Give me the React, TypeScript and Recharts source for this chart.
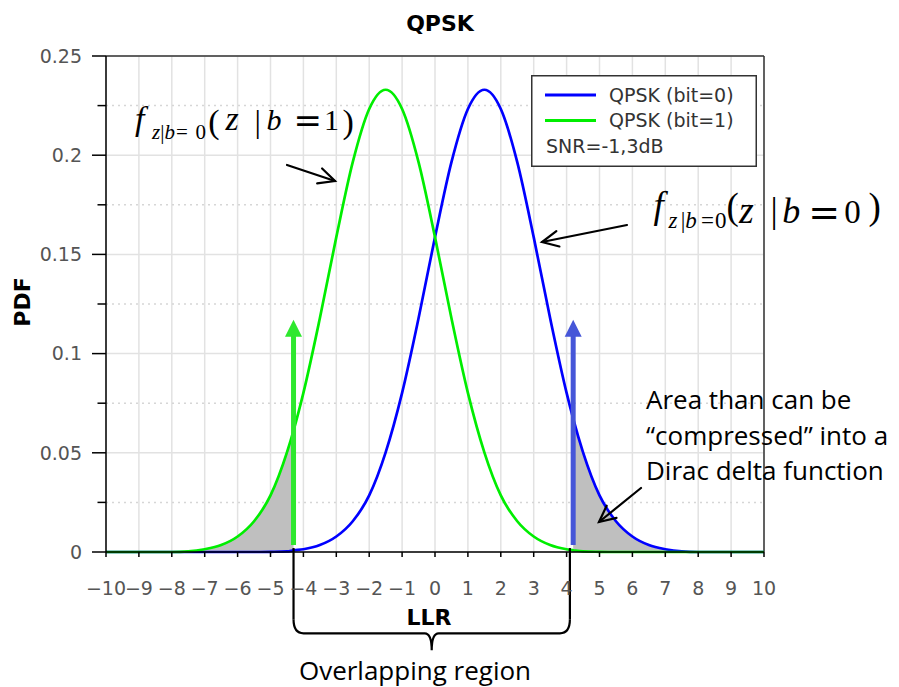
import React from 'react';
import {
  ComposedChart,
  Line,
  Area,
  XAxis,
  YAxis,
  CartesianGrid,
  ReferenceLine,
  ReferenceDot,
  Legend,
} from 'recharts';

// LLR sample positions
const llr = [
  -10, -9.5, -9, -8.5, -8, -7.5, -7, -6.5, -6, -5.5, -5, -4.5, -4.3, -4, -3.5, -3, -2.5, -2, -1.5, -1,
  -0.5, 0, 0.5, 1, 1.5, 2, 2.5, 3, 3.5, 4, 4.2, 4.5, 5, 5.5, 6, 6.5, 7, 7.5, 8, 8.5, 9, 9.5, 10,
];
// QPSK (bit=0) PDF, blue
const bit0 = [
  0, 0, 0, 0, 0, 0, 0, 0, 0, 0, 0.0001, 0.0003, 0.0008, 0.0014, 0.0035, 0.0078, 0.0155, 0.0285, 0.0502, 0.0802,
  0.1178, 0.1587, 0.1965, 0.2233, 0.233, 0.2233, 0.1965, 0.1587, 0.1178, 0.0802, 0.0672, 0.0502, 0.0285, 0.0155,
  0.0078, 0.0035, 0.0014, 0.0003, 0, 0, 0, 0, 0,
];
// QPSK (bit=1) PDF, green
const bit1 = [
  0, 0, 0, 0, 0, 0.0003, 0.0014, 0.0035, 0.0078, 0.0155, 0.0285, 0.0502, 0.0612, 0.0802, 0.1178, 0.1587, 0.1965,
  0.2233, 0.233, 0.2233, 0.1965, 0.1587, 0.1178, 0.0802, 0.0502, 0.0285, 0.0155, 0.0078, 0.0035, 0.0014, 0.0009,
  0.0003, 0.0001, 0, 0, 0, 0, 0, 0, 0, 0, 0, 0,
];

const seriesNames = ['QPSK (bit=0)', 'QPSK (bit=1)'];
const seriesColors = ['#0000ff', '#00ee00'];
const snrNote = 'SNR=-1,3dB';

// shaded tails (range of LLR)
const tailLeft = [-7.5, -4.3];
const tailRight = [4.2, 7.5];

// Dirac delta arrows
const deltaX = [-4.3, 4.2];
const deltaColors = ['#2ee82e', '#4656d8'];
const deltaBase = 0.0035;
const deltaTop = 0.117;

// overlapping-region brace
const braceX = [-4.3, 4.1];
const braceY = -0.041;

const xTicks = [-10, -9, -8, -7, -6, -5, -4, -3, -2, -1, 0, 1, 2, 3, 4, 5, 6, 7, 8, 9, 10];
const yMajor = [0, 0.05, 0.1, 0.15, 0.2, 0.25];
const yMinor = [0.025, 0.075, 0.125, 0.175, 0.225];

const data = llr.map((x, i) => ({
  x,
  bit0: bit0[i],
  bit1: bit1[i],
  grayL: x >= tailLeft[0] && x <= tailLeft[1] ? bit1[i] : null,
  grayR: x >= tailRight[0] && x <= tailRight[1] ? bit0[i] : null,
}));

const SANS = "'DejaVu Sans', sans-serif";
const SERIF = "'Liberation Serif', 'Times New Roman', serif";
const NOTE = "'Open Sans', sans-serif";
const AXIS_X = 106;

const YTick = (props: any) => {
  const { y, payload } = props;
  const major = yMajor.some((v) => Math.abs(v - payload.value) < 1e-9);
  return (
    <g>
      <line x1={AXIS_X - (major ? 14 : 8.5)} x2={AXIS_X} y1={y} y2={y} stroke="#000" strokeWidth={1.5} />
      {major && (
        <text x={AXIS_X - 24} y={y} dy="0.36em" textAnchor="end" fill="#555" fontSize={19} fontFamily={SANS}>
          {payload.value}
        </text>
      )}
    </g>
  );
};

const arrowHead = (color: string) => (p: any) => (
  <polygon
    points={`${p.cx},${p.cy} ${p.cx - 8.5},${p.cy + 17} ${p.cx + 8.5},${p.cy + 17}`}
    fill={color}
  />
);

// curly brace drawn along the horizontal segment
const Brace = (p: any) => {
  const { x1, y1, x2 } = p;
  const mid = (x1 + x2) / 2;
  const r = 10;
  const d =
    `M${x1},${y1 - 14} Q${x1},${y1} ${x1 + r},${y1} L${mid - 7},${y1} Q${mid},${y1} ${mid},${y1 + 17} ` +
    `M${mid},${y1 + 17} Q${mid},${y1} ${mid + 7},${y1} L${x2 - r},${y1} Q${x2},${y1} ${x2},${y1 - 14}`;
  return <path d={d} stroke="#000" strokeWidth={2.2} fill="none" />;
};

const LegendBox = () => (
  <svg width={226} height={92} style={{ display: 'block' }}>
    <rect x={0.75} y={0.75} width={224.5} height={90.5} fill="#fff" stroke="#333" strokeWidth={1.5} />
    {seriesNames.map((name, i) => (
      <g key={name}>
        <line x1={14} x2={65} y1={20 + i * 25.5} y2={20 + i * 25.5} stroke={seriesColors[i]} strokeWidth={3} />
        <text x={78} y={20 + i * 25.5} dy="0.36em" fill="#333" fontSize={19} fontFamily={SANS}>
          {name}
        </text>
      </g>
    ))}
    <text x={15} y={71} dy="0.36em" fill="#333" fontSize={19} fontFamily={SANS}>
      {snrNote}
    </text>
  </svg>
);

// black annotation arrow with an open head
const Pointer = ({ x1, y1, x2, y2 }: { x1: number; y1: number; x2: number; y2: number }) => {
  const a = Math.atan2(y2 - y1, x2 - x1);
  const len = 18;
  const s = 0.45;
  const p1 = [x2 - len * Math.cos(a - s), y2 - len * Math.sin(a - s)];
  const p2 = [x2 - len * Math.cos(a + s), y2 - len * Math.sin(a + s)];
  return (
    <g stroke="#000" strokeWidth={2.2} fill="none" strokeLinecap="round">
      <line x1={x1} y1={y1} x2={x2} y2={y2} />
      <polyline points={`${p1[0]},${p1[1]} ${x2},${y2} ${p2[0]},${p2[1]}`} />
    </g>
  );
};

type Glyph = { t: string; x: number; y: number; size: number; it?: boolean; sans?: boolean };

// one text element per formula, each glyph placed by hand
const Formula = ({ glyphs }: { glyphs: Glyph[] }) => (
  <text fontFamily={SERIF} fill="#000">
    {glyphs.map((g, i) => (
      <tspan
        key={i}
        x={g.x}
        y={g.y}
        fontSize={g.size}
        fontStyle={g.it ? 'italic' : 'normal'}
        fontFamily={g.sans ? SANS : SERIF}
      >
        {g.t}
      </tspan>
    ))}
  </text>
);

const formulaOne: Glyph[] = [
  { t: 'f', x: 135, y: 130, size: 34, it: true },
  { t: 'z', x: 152, y: 139, size: 21, it: true },
  { t: '|', x: 160.3, y: 139, size: 21 },
  { t: 'b', x: 164.5, y: 139, size: 21, it: true },
  { t: '=', x: 176, y: 139, size: 21 },
  { t: '0', x: 195.5, y: 139, size: 21 },
  { t: '(', x: 208.3, y: 132.5, size: 34 },
  { t: 'z', x: 225.5, y: 130, size: 34, it: true },
  { t: '|', x: 254.5, y: 131.5, size: 32 },
  { t: 'b', x: 266.5, y: 130, size: 30, it: true },
  { t: '=', x: 293.6, y: 132, size: 34, sans: true },
  { t: '1', x: 324, y: 130, size: 30 },
  { t: ')', x: 342.5, y: 132.5, size: 34 },
];

const formulaTwo: Glyph[] = [
  { t: 'f', x: 653.4, y: 217.5, size: 37, it: true },
  { t: 'z', x: 668.5, y: 228.3, size: 23, it: true },
  { t: '|', x: 680.7, y: 228.3, size: 23 },
  { t: 'b', x: 685.3, y: 228.3, size: 23, it: true },
  { t: '=', x: 701, y: 228.3, size: 23 },
  { t: '0', x: 715, y: 228.3, size: 23 },
  { t: '(', x: 726.6, y: 219, size: 37 },
  { t: 'z', x: 739, y: 223, size: 38, it: true },
  { t: '|', x: 770.5, y: 222, size: 36 },
  { t: 'b', x: 782.3, y: 223, size: 36, it: true },
  { t: '=', x: 808.2, y: 225.4, size: 38, sans: true },
  { t: '0', x: 844.3, y: 223, size: 33 },
  { t: ')', x: 868.6, y: 219, size: 37 },
];

export default function App() {
  return (
    <div style={{ position: 'absolute', left: 0, top: 0, width: 899, height: 687, background: '#fff' }}>
      <ComposedChart width={899} height={687} data={data} margin={{ top: 56, right: 135, bottom: 95, left: 46 }}>
        <CartesianGrid stroke="#e2e2e2" strokeWidth={1.5} horizontalValues={yMajor} vertical={true} />
        <CartesianGrid
          stroke="#d6d6d6"
          strokeWidth={1.5}
          strokeDasharray="2 4"
          horizontalValues={yMinor}
          vertical={false}
        />
        <XAxis
          dataKey="x"
          type="number"
          domain={[-10, 10]}
          ticks={xTicks}
          interval={0}
          height={40}
          tickSize={5}
          tickMargin={25}
          tickLine={{ stroke: '#000', strokeWidth: 1.5 }}
          axisLine={{ stroke: '#000', strokeWidth: 1.5 }}
          tick={{ fill: '#555', fontSize: 19, fontFamily: SANS }}
          tickFormatter={(v) => String(v).replace('-', '\u2212')}
        />
        <YAxis
          type="number"
          domain={[0, 0.25]}
          ticks={[...yMajor, ...yMinor].sort((a, b) => a - b)}
          interval={0}
          width={60}
          tickSize={0}
          tickMargin={0}
          tickLine={false}
          axisLine={{ stroke: '#000', strokeWidth: 1.5 }}
          tick={(p: any) => <YTick {...p} />}
        />
        <ReferenceLine y={0.25} stroke="#333" strokeWidth={1.5} />
        <ReferenceLine x={10} stroke="#333" strokeWidth={1.5} />

        <Area
          dataKey="grayL"
          type="monotone"
          fill="#bfbfbf"
          fillOpacity={1}
          stroke="none"
          legendType="none"
          isAnimationActive={false}
        />
        <Area
          dataKey="grayR"
          type="monotone"
          fill="#bfbfbf"
          fillOpacity={1}
          stroke="none"
          legendType="none"
          isAnimationActive={false}
        />
        <Line
          dataKey="bit0"
          name={seriesNames[0]}
          type="monotone"
          stroke={seriesColors[0]}
          strokeWidth={2.7}
          dot={false}
          isAnimationActive={false}
        />
        <Line
          dataKey="bit1"
          name={seriesNames[1]}
          type="monotone"
          stroke={seriesColors[1]}
          strokeWidth={2.7}
          dot={false}
          isAnimationActive={false}
        />

        {deltaX.map((x, i) => (
          <ReferenceLine
            key={`shaft${i}`}
            segment={[
              { x, y: deltaBase },
              { x, y: deltaTop - 0.008 },
            ]}
            stroke={deltaColors[i]}
            strokeWidth={5}
          />
        ))}
        {deltaX.map((x, i) => (
          <ReferenceDot key={`head${i}`} x={x} y={deltaTop} r={0} shape={arrowHead(deltaColors[i])} />
        ))}

        {braceX.map((x) => (
          <ReferenceLine
            key={`bv${x}`}
            segment={[
              { x, y: 0.002 },
              { x, y: braceY + 0.0071 },
            ]}
            stroke="#000"
            strokeWidth={2.2}
            ifOverflow="visible"
          />
        ))}
        <ReferenceLine
          segment={[
            { x: braceX[0], y: braceY },
            { x: braceX[1], y: braceY },
          ]}
          ifOverflow="visible"
          shape={(p: any) => <Brace {...p} />}
        />

        <Legend
          layout="horizontal"
          verticalAlign="middle"
          align="center"
          wrapperStyle={{ left: 531, top: 75, width: 226, height: 92 }}
          content={() => <LegendBox />}
        />
      </ComposedChart>

      <svg
        width={899}
        height={687}
        style={{ position: 'absolute', left: 0, top: 0, pointerEvents: 'none', overflow: 'visible' }}
      >
        <text x={440} y={31} textAnchor="middle" fontSize={22} fontWeight="bold" fontFamily={SANS} fill="#000">
          QPSK
        </text>
        <text x={429} y={625} textAnchor="middle" fontSize={22} fontWeight="bold" fontFamily={SANS} fill="#000">
          LLR
        </text>
        <text
          x={30}
          y={302}
          textAnchor="middle"
          fontSize={22}
          fontWeight="bold"
          fontFamily={SANS}
          fill="#000"
          transform="rotate(-90 30 302)"
        >
          PDF
        </text>

        <Formula glyphs={formulaOne} />
        <Formula glyphs={formulaTwo} />

        <Pointer x1={287} y1={165} x2={335} y2={181} />
        <Pointer x1={627} y1={225} x2={542} y2={242} />
        <Pointer x1={641} y1={488} x2={599} y2={522} />

        <g fontFamily={NOTE} fontSize={26} fill="#000">
          <text x={646} y={409}>Area than can be</text>
          <text x={646} y={445}>“compressed” into a</text>
          <text x={646} y={480}>Dirac delta function</text>
          <text x={415} y={680} textAnchor="middle">
            Overlapping region
          </text>
        </g>
      </svg>
    </div>
  );
}
